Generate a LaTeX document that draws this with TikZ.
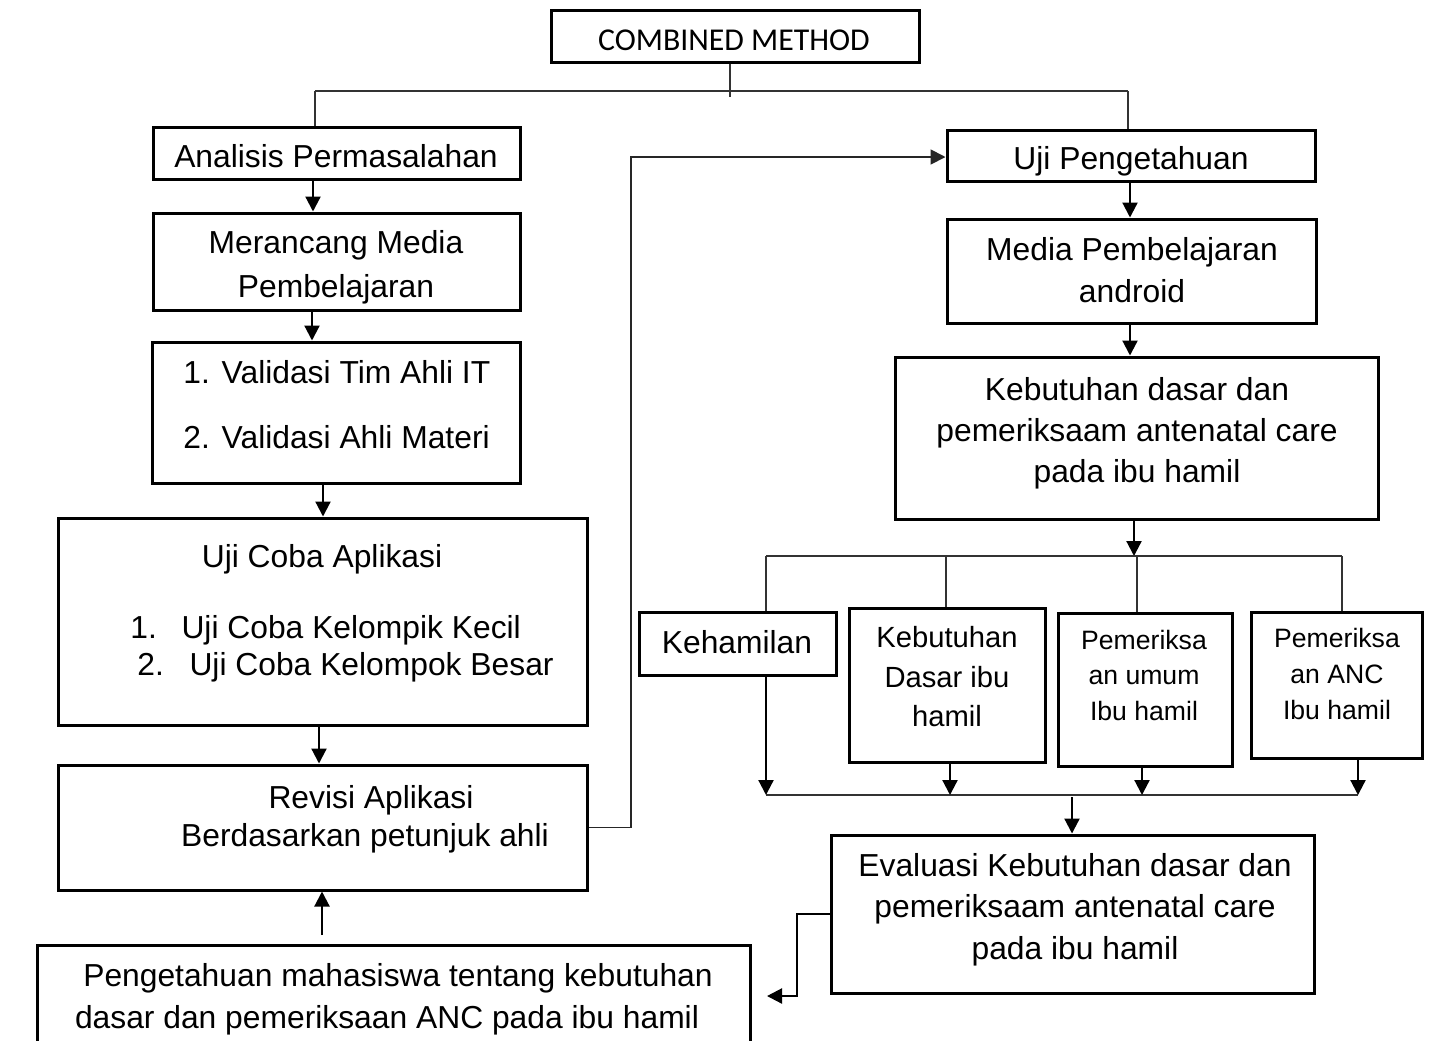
\documentclass[tikz,border=0pt]{standalone}
\usepackage{fontspec}
\setmainfont{Liberation Sans}
\newfontfamily\calibrifont{Carlito}
\usetikzlibrary{arrows.meta,fit}
\begin{document}
\begin{tikzpicture}[x=0.5pt,y=-0.5pt,
  box/.style={draw=black, line width=1.5pt, inner sep=0pt},
  txt/.style={inner sep=0pt, anchor=base, font=\fontsize{15.9}{19}\selectfont},
  ltxt/.style={txt, anchor=base west},
  mtxt/.style={txt, font=\fontsize{14.6}{18}\selectfont},
  stxt/.style={txt, font=\fontsize{13.3}{16}\selectfont},
  tip/.style={-{Triangle[width=7.5pt,length=7.5pt]}},
  arr/.style={line width=1.1pt, draw=black, tip},
  thinline/.style={line width=0.8pt, draw=black!80},
]
\useasboundingbox (0,0) rectangle (1429,1040);
\clip (0,0) rectangle (1429,1040);
\fill[white] (0,0) rectangle (1429,1040);

% ---------- boxes ----------
\node[box, fit={(551,10) (919,62)}] (combined) {};
\node[box, fit={(153,127) (520,179)}] (analisis) {};
\node[box, fit={(153,213) (520,310)}] (merancang) {};
\node[box, fit={(152,342) (520,483)}] (validasi) {};
\node[box, fit={(58,518) (587,725)}] (ujicoba) {};
\node[box, fit={(58,765) (587,890)}] (revisi) {};
\node[box, fit={(37,945) (750,1060)}] (pengetahuan) {};
\node[box, fit={(947,130) (1315,181)}] (ujipeng) {};
\node[box, fit={(947,219) (1316,323)}] (media) {};
\node[box, fit={(895,357) (1378,519)}] (kebdasar) {};
\node[box, fit={(639,612) (836,675)}] (kehamilan) {};
\node[box, fit={(849,608) (1045,762)}] (kebibu) {};
\node[box, fit={(1058,613) (1232,766)}] (umum) {};
\node[box, fit={(1251,612) (1422,758)}] (anc) {};
\node[box, fit={(831,835) (1314,993)}] (evaluasi) {};

% ---------- texts ----------
\node[txt, font=\calibrifont\fontsize{15.9}{19}\selectfont] (t-comb) at (734,50) {COMBINED METHOD};
\node[txt] (t-ana) at (336,167) {Analisis Permasalahan};
\node[txt] (t-mer1) at (336,253) {Merancang Media};
\node[txt] (t-mer2) at (336,297) {Pembelajaran};
\node[ltxt] (t-val1) at (183,383) {1. Validasi Tim Ahli IT};
\node[ltxt] (t-val2) at (183,448) {2. Validasi Ahli Materi};
\node[txt] (t-uji0) at (322,567) {Uji Coba Aplikasi};
\node[ltxt] (t-uji1) at (130,638) {1.\hspace{12.3pt}Uji Coba Kelompik Kecil};
\node[ltxt] (t-uji2) at (137,675) {2.\hspace{12.8pt}Uji Coba Kelompok Besar};
\node[txt] (t-rev1) at (371,808) {Revisi Aplikasi};
\node[txt] (t-rev2) at (365,846) {Berdasarkan petunjuk ahli};
\node[txt] (t-pen1) at (398,986) {Pengetahuan mahasiswa tentang kebutuhan};
\node[txt] (t-pen2) at (387,1028) {dasar dan pemeriksaan ANC pada ibu hamil};
\node[txt] (t-ujp) at (1131,169) {Uji Pengetahuan};
\node[txt] (t-med1) at (1132,260) {Media Pembelajaran};
\node[txt] (t-med2) at (1132,302) {android};
\node[txt] (t-keb1) at (1137,400) {Kebutuhan dasar dan};
\node[txt] (t-keb2) at (1137,441) {pemeriksaam antenatal care};
\node[txt] (t-keb3) at (1137,482) {pada ibu hamil};
\node[txt] (t-hml) at (737,653) {Kehamilan};
\node[mtxt] (t-kib1) at (947,647) {Kebutuhan};
\node[mtxt] (t-kib2) at (947,687) {Dasar ibu};
\node[mtxt] (t-kib3) at (947,726) {hamil};
\node[stxt] (t-um1) at (1144,649) {Pemeriksa};
\node[stxt] (t-um2) at (1144,684) {an umum};
\node[stxt] (t-um3) at (1144,720) {Ibu hamil};
\node[stxt] (t-anc1) at (1337,647) {Pemeriksa};
\node[stxt] (t-anc2) at (1337,683) {an ANC};
\node[stxt] (t-anc3) at (1337,719) {Ibu hamil};
\node[txt] (t-ev1) at (1075,876) {Evaluasi Kebutuhan dasar dan};
\node[txt] (t-ev2) at (1075,917) {pemeriksaam antenatal care};
\node[txt] (t-ev3) at (1075,959) {pada ibu hamil};

% ---------- helper coordinates ----------
\coordinate (jc) at (730,97);
\coordinate (bl) at (315,91);
\coordinate (br) at (1128,91);
\coordinate (x313) at (313,0);
\coordinate (x312) at (312,0);
\coordinate (x323) at (323,0);
\coordinate (x319) at (319,0);
\coordinate (x1130) at (1130,0);
\coordinate (x1134) at (1134,0);
\coordinate (x946) at (946,0);
\coordinate (x950) at (950,0);
\coordinate (x1137) at (1137,0);
\coordinate (x1142) at (1142,0);
\coordinate (x1072) at (1072,0);
\coordinate (tbL) at (766,556);
\coordinate (tbR) at (1342,556);
\coordinate (bbL) at (766,795);
\coordinate (bbR) at (1358,795);
\coordinate (pg) at (322,935);
\coordinate (r1) at (631,157);
\coordinate (e1) at (797,996);
\coordinate (etip) at (767,996);

% ---------- connectors: top tree ----------
\draw[thinline] (combined.south -| jc) -- (jc);
\draw[thinline] (bl) -- (br);
\draw[thinline] (bl) -- (analisis.north -| bl);
\draw[thinline] (br) -- (ujipeng.north -| br);

% left column
\draw[arr] (analisis.south -| x313) -- (merancang.north -| x313);
\draw[arr] (merancang.south -| x312) -- (validasi.north -| x312);
\draw[arr] (validasi.south -| x323) -- (ujicoba.north -| x323);
\draw[arr] (ujicoba.south -| x319) -- (revisi.north -| x319);
\draw[arr] (pg) -- (revisi.south -| pg);

% revisi -> uji pengetahuan
\draw[line width=0.9pt, draw=black!85, tip] (revisi.east) -| (r1) -- (r1 -| ujipeng.west);

% right column
\draw[arr] (ujipeng.south -| x1130) -- (media.north -| x1130);
\draw[arr] (media.south -| x1130) -- (kebdasar.north -| x1130);
\draw[arr] (kebdasar.south -| x1134) -- (tbL -| x1134);

% branch bar
\draw[thinline] (tbL) -- (tbR);
\draw[thinline] (tbL) -- (kehamilan.north -| tbL);
\draw[thinline] (tbL -| x946) -- (kebibu.north -| x946);
\draw[thinline] (tbL -| x1137) -- (umum.north -| x1137);
\draw[thinline] (tbR) -- (anc.north -| tbR);

% collecting bar
\draw[thinline] (bbL) -- (bbR);
\draw[arr] (kehamilan.south -| bbL) -- (bbL);
\draw[arr] (kebibu.south -| x950) -- (bbL -| x950);
\draw[arr] (umum.south -| x1142) -- (bbL -| x1142);
\draw[arr] (anc.south -| bbR) -- (bbR);
\draw[arr] ([yshift=-1pt]bbL -| x1072) -- (evaluasi.north -| x1072);

% evaluasi -> pengetahuan
\draw[arr] (evaluasi.west) -| (e1) -- (etip);
\end{tikzpicture}
\end{document}
